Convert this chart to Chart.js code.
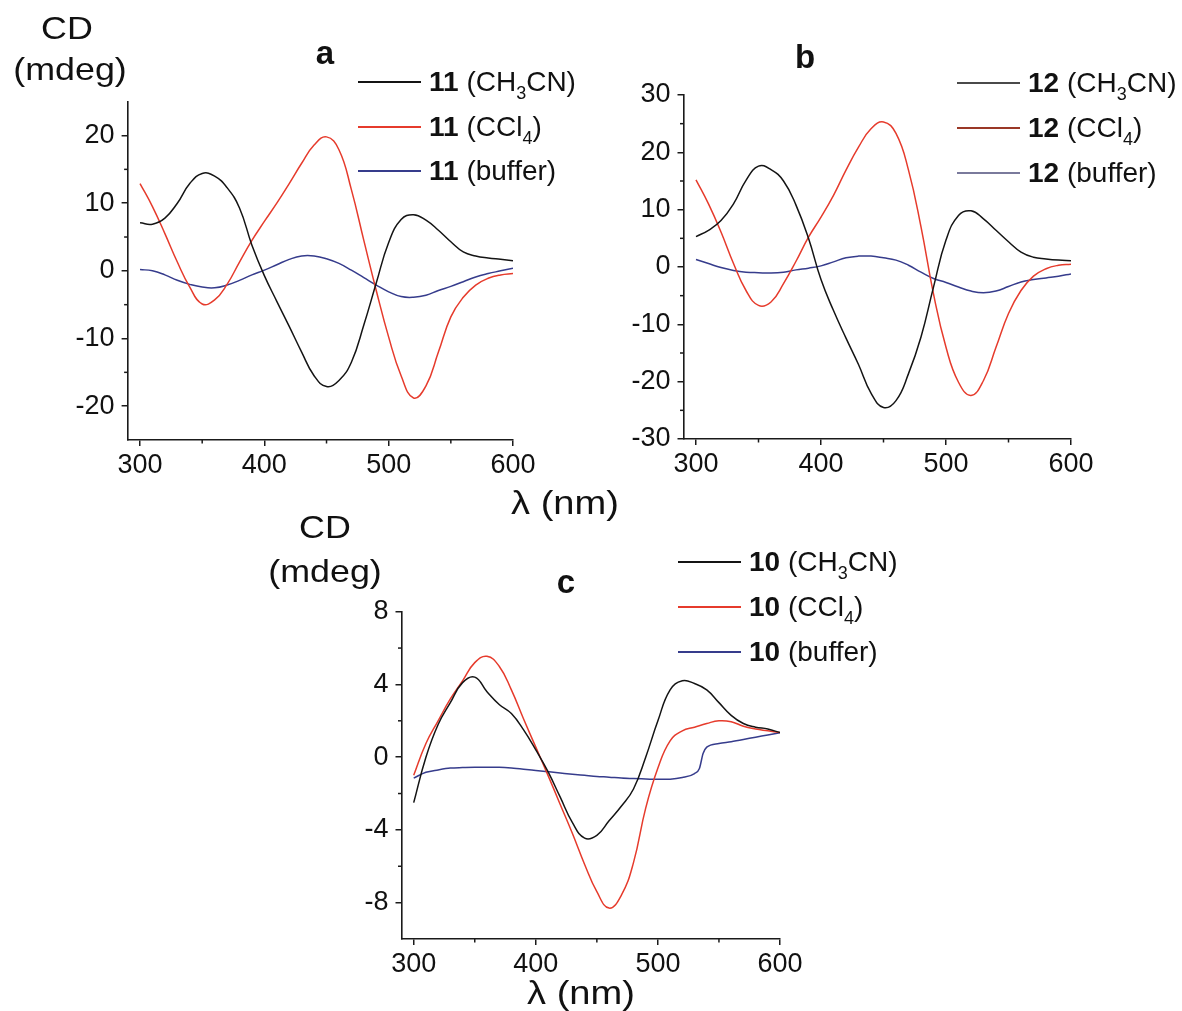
<!DOCTYPE html>
<html>
<head>
<meta charset="utf-8">
<script src="https://cdn.jsdelivr.net/npm/chart.js@4.4.1/dist/chart.umd.min.js"></script>
<style>
  html, body { margin: 0; padding: 0; background: #fff; }
  body { width: 1182px; height: 1011px; position: relative; overflow: hidden;
         font-family: 'Liberation Sans', Arial, sans-serif; color: #111; }
  canvas { position: absolute; left: 0; top: 0; }
  .t { position: absolute; line-height: 1; white-space: nowrap; }
  .ctr { text-align: center; }
  .ttl { font-size: 32px; transform: scaleX(1.12); }
  .lam { font-size: 34px; transform: scaleX(1.12); }
  .pl { font-size: 33px; font-weight: bold; }
  .lg { font-size: 28px; }
  .lg b { font-weight: bold; }
  .sb { font-size: 18px; position: relative; top: 8px; }
  .ln { position: absolute; height: 1.5px; width: 63px; }
</style>
</head>
<body>
<canvas id="ca" width="1182" height="1011"></canvas>
<canvas id="cb" width="1182" height="1011"></canvas>
<canvas id="cc" width="1182" height="1011"></canvas>

<!-- axis titles -->
<div class="t ctr ttl" style="left:7px;width:120px;top:12px;">CD</div>
<div class="t ctr ttl" style="left:10px;width:120px;top:53px;">(mdeg)</div>
<div class="t ctr ttl" style="left:265px;width:120px;top:511px;">CD</div>
<div class="t ctr ttl" style="left:265px;width:120px;top:555px;">(mdeg)</div>
<div class="t ctr lam" style="left:485px;width:160px;top:485px;">λ (nm)</div>
<div class="t ctr lam" style="left:501px;width:160px;top:975px;">λ (nm)</div>

<!-- panel letters -->
<div class="t ctr pl" style="left:295px;width:60px;top:36px;">a</div>
<div class="t ctr pl" style="left:775px;width:60px;top:40px;">b</div>
<div class="t ctr pl" style="left:536px;width:60px;top:565px;">c</div>

<div id="legends"></div>

<script>
// ---------------- data ----------------
const wl = [300,310,320,330,340,350,360,370,380,390,400,410,420,430,440,450,460,470,480,490,500,510,520,530,540,550,560,570,580,590,600];

// panel a : compound 11
const a_CH3CN  = [7.1,6.9,7.8,10.0,12.9,14.4,14.0,12.3,9.3,3.8,-0.7,-4.5,-8.2,-12.0,-15.5,-17.1,-16.2,-13.5,-8.0,-1.8,4.2,7.6,8.3,7.5,6.0,4.3,2.8,2.2,1.9,1.7,1.5];
const a_CCl4   = [12.9,9.5,5.5,1.3,-2.4,-4.9,-4.3,-2.0,1.3,4.5,7.3,10.0,12.9,15.9,18.6,19.8,17.9,12.0,4.5,-2.9,-9.8,-15.5,-18.8,-17.0,-12.0,-6.8,-3.9,-2.1,-1.1,-0.6,-0.4];
const a_buffer = [0.2,0.0,-0.6,-1.4,-2.0,-2.4,-2.5,-2.1,-1.4,-0.6,0.1,0.9,1.7,2.2,2.2,1.8,1.1,0.1,-1.0,-2.1,-3.1,-3.8,-3.9,-3.6,-2.9,-2.3,-1.6,-0.9,-0.4,0.0,0.4];

// panel b : compound 12
const b_CH3CN  = [5.3,6.4,8.1,11.0,15.1,17.6,17.0,15.0,10.8,5.0,-2.2,-7.6,-12.4,-17.0,-22.0,-24.5,-23.3,-18.6,-12.2,-3.5,4.7,9.0,9.8,8.4,6.4,4.4,2.6,1.7,1.4,1.2,1.1];
const b_CCl4   = [15.2,11.0,6.1,0.6,-4.1,-6.7,-6.1,-2.9,1.0,5.2,8.7,12.5,16.9,20.9,24.1,25.3,23.3,16.9,7.0,-4.7,-14.0,-20.1,-22.4,-19.8,-14.0,-8.1,-4.1,-1.6,-0.3,0.3,0.5];
const b_buffer = [1.3,0.6,-0.1,-0.6,-0.9,-1.0,-1.05,-0.9,-0.5,-0.2,0.2,0.9,1.6,1.9,1.9,1.6,1.2,0.3,-0.9,-2.0,-2.7,-3.5,-4.2,-4.5,-4.2,-3.4,-2.6,-2.2,-1.9,-1.6,-1.2];

// panel c : compound 10
const c_CH3CN  = [-2.5,0.0,1.8,3.0,4.1,4.4,3.6,2.9,2.4,1.5,0.4,-0.8,-2.2,-3.6,-4.45,-4.3,-3.5,-2.7,-1.75,0.0,2.0,3.7,4.2,4.05,3.7,3.0,2.3,1.85,1.65,1.55,1.35];
const c_CCl4   = [-1.0,0.75,2.0,3.2,4.2,5.2,5.55,5.0,3.7,2.1,0.55,-1.0,-2.6,-4.2,-5.9,-7.4,-8.3,-7.6,-5.8,-2.8,-0.6,0.9,1.45,1.65,1.85,2.0,1.95,1.7,1.55,1.45,1.35];
const wl_c_buffer = [300,310,320,330,340,350,360,370,380,390,400,410,420,430,440,450,460,470,480,490,500,510,520,530,534,537,540,550,560,570,580,590,600];
const c_buffer = [-1.15,-0.83,-0.7,-0.6,-0.57,-0.55,-0.55,-0.56,-0.6,-0.66,-0.73,-0.8,-0.87,-0.94,-1.0,-1.06,-1.1,-1.15,-1.18,-1.2,-1.22,-1.21,-1.12,-0.9,-0.62,0.2,0.55,0.75,0.85,0.97,1.1,1.22,1.35];

// axis ticks
const xTicks = [300,400,500,600];
const xMinor = [350,450,550];
const aYTicks = [-20,-10,0,10,20];
const aYMinor = [-15,-5,5,15];
const bYTicks = [-30,-20,-10,0,10,20,30];
const bYMinor = [-25,-15,-5,5,15,25];
const cYTicks = [-8,-4,0,4,8];
const cYMinor = [-6,-2,2,6];

// legend labels
const solvents = ['(CH<span class="sb">3</span>CN)', '(CCl<span class="sb">4</span>)', '(buffer)'];
const seriesColors = ['#141414', '#e63b2c', '#363c8c'];
const legendColorsB = ['#4a4a4a', '#9a3826', '#7a7a9c'];

// ---------------- drawing ----------------
const FONT = "'Liberation Sans', Arial, sans-serif";

const minorTickPlugin = {
  id: 'minorTicks',
  afterDraw(chart, args, opts) {
    const ctx = chart.ctx, ca = chart.chartArea;
    ctx.save();
    ctx.strokeStyle = '#1a1a1a';
    ctx.lineWidth = 1.5;
    const xs = chart.scales.x, ys = chart.scales.y;
    (opts.x || []).forEach(v => {
      const px = xs.getPixelForValue(v);
      ctx.beginPath(); ctx.moveTo(px, ca.bottom); ctx.lineTo(px, ca.bottom + opts.len); ctx.stroke();
    });
    (opts.y || []).forEach(v => {
      const py = ys.getPixelForValue(v);
      ctx.beginPath(); ctx.moveTo(ca.left - opts.len, py); ctx.lineTo(ca.left, py); ctx.stroke();
    });
    ctx.restore();
  }
};

function pts(xs, ys) { return xs.map((x, i) => ({x: x, y: ys[i]})); }

function makeChart(id, series, yMin, yMax, yTicks, yMinor, pad) {
  const datasets = series.map((s, i) => ({
    label: s.label,
    data: pts(s.x, s.y),
    borderColor: seriesColors[i],
    borderWidth: 1.5,
    pointRadius: 0,
    fill: false,
    tension: s.mono ? 0 : 0.45,
    cubicInterpolationMode: s.mono ? 'monotone' : 'default'
  }));
  const axisCommon = {
    type: 'linear',
    border: { display: true, color: '#1a1a1a', width: 1.6 },
    grid: { display: true, drawOnChartArea: false, drawTicks: true, tickLength: 6, color: '#1a1a1a', lineWidth: 1.5 },
  };
  return new Chart(document.getElementById(id), {
    type: 'line',
    data: { datasets },
    options: {
      responsive: false,
      devicePixelRatio: 1,
      animation: false,
      events: [],
      layout: { padding: pad },
      plugins: {
        legend: { display: false },
        tooltip: { enabled: false },
        minorTicks: { x: xMinor, y: yMinor, len: 3.5 }
      },
      scales: {
        x: Object.assign({}, axisCommon, {
          position: 'bottom',
          min: 290, max: 600,
          ticks: { font: { size: 27, family: FONT }, color: '#111', padding: 3, maxRotation: 0, autoSkip: false },
          afterBuildTicks: s => { s.ticks = xTicks.map(v => ({value: v})); },
          afterFit: s => { s.height = 60; s.paddingLeft = 0; s.paddingRight = 0; }
        }),
        y: Object.assign({}, axisCommon, {
          position: 'left',
          min: yMin, max: yMax,
          ticks: { font: { size: 27, family: FONT }, color: '#111', padding: 7, autoSkip: false },
          afterBuildTicks: s => { s.ticks = yTicks.map(v => ({value: v})); },
          afterFit: s => { s.width = 100; s.paddingTop = 0; s.paddingBottom = 0; }
        })
      }
    },
    plugins: [minorTickPlugin]
  });
}

makeChart('ca', [
  {label: '11 (CH3CN)', x: wl, y: a_CH3CN},
  {label: '11 (CCl4)', x: wl, y: a_CCl4},
  {label: '11 (buffer)', x: wl, y: a_buffer}
], -25, 25, aYTicks, aYMinor, {left: 27.6, right: 669, top: 101.7, bottom: 511});

makeChart('cb', [
  {label: '12 (CH3CN)', x: wl, y: b_CH3CN},
  {label: '12 (CCl4)', x: wl, y: b_CCl4},
  {label: '12 (buffer)', x: wl, y: b_buffer}
], -30, 30, bYTicks, bYMinor, {left: 583.5, right: 111, top: 95, bottom: 512});

makeChart('cc', [
  {label: '10 (CH3CN)', x: wl, y: c_CH3CN},
  {label: '10 (CCl4)', x: wl, y: c_CCl4},
  {label: '10 (buffer)', x: wl_c_buffer, y: c_buffer, mono: true}
], -10, 8, cYTicks, cYMinor, {left: 301.5, right: 402, top: 611.7, bottom: 12});

// ---------------- legends (HTML text) ----------------
function legend(num, lineX, rowsY, colors) {
  const host = document.getElementById('legends');
  const F = 28;
  rowsY.forEach((y, i) => {
    const ln = document.createElement('div');
    ln.className = 'ln';
    ln.style.left = lineX + 'px';
    ln.style.top = (y - 0.75) + 'px';
    ln.style.background = colors[i];
    host.appendChild(ln);
    const tx = document.createElement('div');
    tx.className = 't lg';
    tx.style.left = (lineX + 71) + 'px';
    tx.style.top = (y + 10 - 0.8465 * F) + 'px';
    tx.innerHTML = '<b>' + num + '</b> ' + solvents[i];
    host.appendChild(tx);
  });
}
legend('11', 358, [82, 127, 171], seriesColors);
legend('12', 957, [83, 128, 173], legendColorsB);
legend('10', 678, [562, 607, 652], seriesColors);
</script>
</body>
</html>
